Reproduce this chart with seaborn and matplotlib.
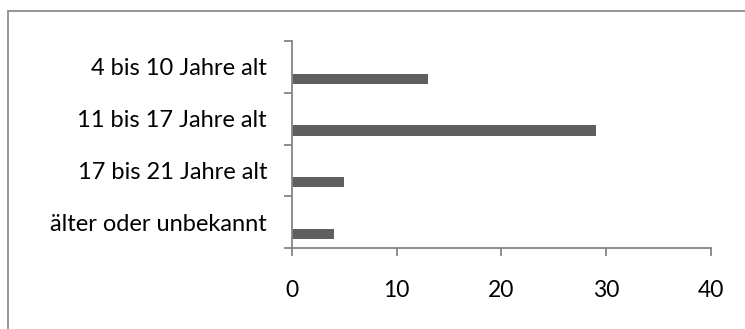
import matplotlib
matplotlib.use("Agg")
import matplotlib.pyplot as plt
import seaborn as sns
import pandas as pd
from matplotlib.patches import Rectangle
from matplotlib.ticker import FixedLocator

categories = ["4 bis 10 Jahre alt", "11 bis 17 Jahre alt", "17 bis 21 Jahre alt", "älter oder unbekannt"]
values = [13, 29, 5, 4]
x_ticks = [0, 10, 20, 30, 40]

df = pd.DataFrame({"Altersgruppe": categories, "Anzahl": values})

sns.set_theme(style="white")
plt.rcParams["font.family"] = ["Lato", "DejaVu Sans"]

W, H = 745, 329
fig = plt.figure(figsize=(W / 100, H / 100), dpi=100)
ax = fig.add_axes([292 / W, 1 - 248 / H, (710.7 - 292) / W, (248 - 41) / H])

sns.barplot(data=df, y="Altersgruppe", x="Anzahl", order=categories, orient="h",
            color="#5f5f5f", saturation=1, width=0.2, ax=ax, errorbar=None)
# Excel-style offset of bars within each category band
for p in ax.patches:
    p.set_y(p.get_y() + 0.23)
    p.set_edgecolor("none")

ax.set_xlim(0, 40)
ax.set_ylim(3.5, -0.5)
ax.set_xticks(x_ticks)
ax.set_xticklabels([str(t) for t in x_ticks])
ax.set_xlabel("")
ax.set_ylabel("")

axis_col = "#868686"
for s in ["top", "right"]:
    ax.spines[s].set_visible(False)
for s in ["left", "bottom"]:
    ax.spines[s].set_color(axis_col)
    ax.spines[s].set_linewidth(1.3)

ax.yaxis.set_minor_locator(FixedLocator([-0.5, 0.5, 1.5, 2.5, 3.5]))
ax.tick_params(axis="y", which="major", length=0, pad=18, labelsize=17, labelcolor="#000000")
ax.tick_params(axis="y", which="minor", left=True, length=6, width=1.3, color=axis_col, direction="out")
ax.tick_params(axis="x", which="major", bottom=True, length=6, width=1.3, color=axis_col,
               direction="out", pad=17, labelsize=16.5, labelcolor="#000000")

fig.patches.append(Rectangle((8 / W, -0.1), 1.2, 1 - 11 / H + 0.1, transform=fig.transFigure,
                             fill=False, edgecolor="#8c8c8c", linewidth=1.3))

fig.savefig("out.png", dpi=100)
